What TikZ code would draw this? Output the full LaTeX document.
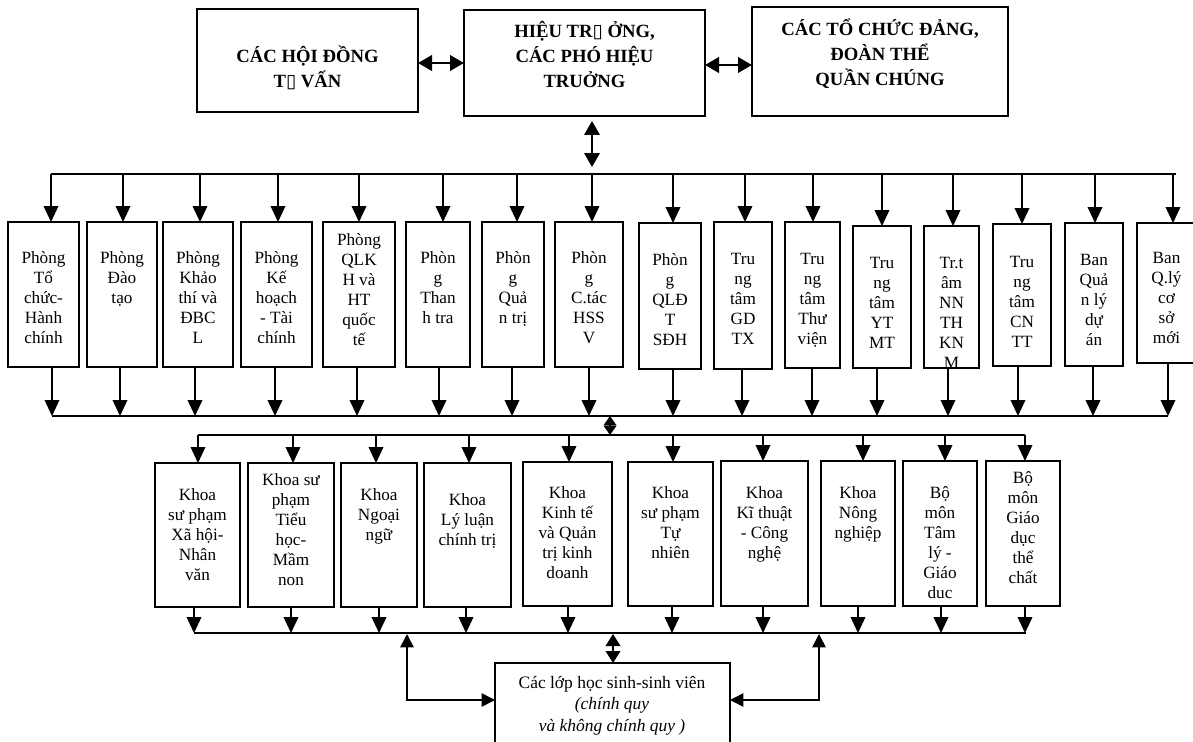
\documentclass[tikz,border=0pt]{standalone}
\usepackage{fontspec}
\setmainfont{Liberation Serif}
\newfontfamily\symfont{DejaVu Sans}
\usetikzlibrary{arrows.meta,fit}
\newcommand\tofu{{\symfont\char"25AF}}
\newcommand\fl{\rule{0pt}{1.1em}}
\newcommand\topbus{174}
\newcommand\botbus{416}
\newcommand\ubox[9]{%
 \node[box, fit={(#2,#4) (#3,#5)}] (#1) {};
 \node[txt] (t#1) at ({(#2+#3)/2},{#8-14}) {\fl #9};
 \coordinate (a#1) at (#6,\topbus);
 \coordinate (b#1) at (#7,\botbus);
 \draw[arr] (a#1) -- (a#1 |- #1.north);
 \draw[arr] (b#1 |- #1.south) -- (b#1);}
\begin{document}
\begin{tikzpicture}[x=0.75pt,y=-0.75pt,
  box/.style={draw, line width=1.2pt, inner sep=0pt, outer sep=0pt},
  txt/.style={inner sep=0pt, align=center, anchor=north, font=\fontsize{12.9pt}{15pt}\selectfont},
  btxt/.style={inner sep=0pt, align=center, anchor=north, font=\fontsize{14pt}{18.5pt}\selectfont\bfseries},
  ctxt/.style={inner sep=0pt, align=center, anchor=north, font=\fontsize{13.1pt}{16pt}\selectfont},
  arr/.style={line width=1.2pt, -{Triangle[length=12pt,width=11pt]}},
  bus/.style={line width=1pt},
  dtop/.style={line width=2.2pt, {Triangle[length=10.5pt,width=11.5pt]}-{Triangle[length=10.5pt,width=11.5pt]}},
  dmid/.style={line width=1pt, {Triangle[length=7pt,width=9.5pt]}-{Triangle[length=7pt,width=9.5pt]}},
  dlow/.style={line width=1pt, {Triangle[length=9pt,width=11pt]}-{Triangle[length=9pt,width=11pt]}},
  dside/.style={line width=1.2pt, {Triangle[length=10pt,width=10pt]}-{Triangle[length=10pt,width=10pt]}}
]
\useasboundingbox (0,0) rectangle (1193,742);
\fill[white] (0,0) rectangle (1193,742);
\clip (0,0) rectangle (1193,742);

% top boxes
\node[box, fit={(197,9) (418,112)}] (hd) {};
\node[btxt] (thd) at (307.5,42) {\fl CÁC HỘI ĐỒNG\\T\tofu\ VẤN};
\node[box, fit={(464,10) (705,116)}] (ht) {};
\node[btxt] (tht) at (584.5,17) {\fl HIỆU TR\tofu\ ỞNG,\\CÁC PHÓ HIỆU\\TRUỞNG};
\node[box, fit={(752,7) (1008,116)}] (dt) {};
\node[btxt] (tdt) at (880,15) {\fl CÁC TỔ CHỨC ĐẢNG,\\ĐOÀN THỂ\\QUẦN CHÚNG};

\draw[dtop] (hd.east |- 0,63) -- (ht.west |- 0,63);
\draw[dtop] (ht.east |- 0,65) -- (dt.west |- 0,65);
\coordinate (v1) at (592,121);
\coordinate (v2) at (592,167);
\draw[dtop, line width=1.9pt] (v1) -- (v2);

% phong row
\ubox{p1}{8}{79}{222}{367}{51}{52}{258}{Phòng\\Tổ\\chức-\\Hành\\chính}
\ubox{p2}{87}{157}{222}{367}{123}{120}{258}{Phòng\\Đào\\tạo}
\ubox{p3}{163}{233}{222}{367}{200}{195}{258}{Phòng\\Khảo\\thí và\\ĐBC\\L}
\ubox{p4}{241}{312}{222}{367}{278}{275}{258}{Phòng\\Kế\\hoạch\\- Tài\\chính}
\ubox{p5}{323}{395}{222}{367}{359}{357}{240}{Phòng\\QLK\\H và\\HT\\quốc\\tế}
\ubox{p6}{406}{470}{222}{367}{443}{439}{258}{Phòn\\g\\Than\\h tra}
\ubox{p7}{482}{544}{222}{367}{517}{512}{258}{Phòn\\g\\Quả\\n trị}
\ubox{p8}{555}{623}{222}{367}{592}{589}{258}{Phòn\\g\\C.tác\\HSS\\V}
\ubox{p9}{639}{701}{223}{369}{673}{673}{260}{Phòn\\g\\QLĐ\\T\\SĐH}
\ubox{p10}{714}{772}{222}{369}{745}{742}{259}{Tru\\ng\\tâm\\GD\\TX}
\ubox{p11}{785}{840}{222}{368}{813}{812}{259}{Tru\\ng\\tâm\\Thư\\viện}
\ubox{p12}{853}{911}{226}{368}{882}{877}{263}{Tru\\ng\\tâm\\YT\\MT}
\ubox{p13}{924}{979}{226}{368}{953}{948}{263}{}
\ubox{p14}{993}{1051}{224}{366}{1022}{1018}{262}{Tru\\ng\\tâm\\CN\\TT}
\ubox{p15}{1065}{1123}{223}{366}{1095}{1093}{260}{Ban\\Quả\\n lý\\dự\\án}
\ubox{p16}{1137}{1196}{223}{363}{1173}{1168}{258}{Ban\\Q.lý\\cơ\\sở\\mới}
\begin{scope}
  \clip (p13.north west) rectangle (p13.south east);
  \node[txt] (tp13x) at (951.5,249) {\fl Tr.t\\âm\\NN\\TH\\KN\\M};
\end{scope}
\draw[bus] (ap1) -- ([xshift=2.25pt]ap16);
\draw[bus] (bp1) -- (bp16);

% link between buses
\coordinate (m1) at (610,416);
\coordinate (m2) at (610,435);
\draw[dmid] (m1) -- (m2);

% khoa row
\renewcommand\topbus{435}
\renewcommand\botbus{633}
\ubox{k1}{155}{240}{463}{607}{198}{194}{495}{Khoa\\sư phạm\\Xã hội-\\Nhân\\văn}
\ubox{k2}{248}{334}{463}{607}{293}{291}{480}{Khoa sư\\phạm\\Tiểu\\học-\\Mầm\\non}
\ubox{k3}{341}{417}{463}{607}{376}{379}{495}{Khoa\\Ngoại\\ngữ}
\ubox{k4}{424}{511}{463}{607}{469}{466}{500}{Khoa\\Lý luận\\chính trị}
\ubox{k5}{523}{612}{462}{606}{569}{568}{493}{Khoa\\Kinh tế\\và Quản\\trị kinh\\doanh}
\ubox{k6}{628}{713}{462}{606}{673}{672}{493}{Khoa\\sư phạm\\Tự\\nhiên}
\ubox{k7}{721}{808}{461}{606}{763}{763}{493}{Khoa\\Kĩ thuật\\- Công\\nghệ}
\ubox{k8}{821}{895}{461}{606}{863}{858}{493}{Khoa\\Nông\\nghiệp}
\ubox{k9}{903}{977}{461}{606}{945}{941}{493}{Bộ\\môn\\Tâm\\lý -\\Giáo\\duc}
\ubox{k10}{986}{1060}{461}{606}{1025}{1025}{478}{Bộ\\môn\\Giáo\\dục\\thể\\chất}
\draw[bus] (ak1) -- (ak10);
\draw[bus] (bk1) -- ([xshift=0.75pt]bk10);

% students box
\node[box, fit={(495,663) (730,760)}] (sv) {};
\node[ctxt] (tsv) at (612,669) {\fl Các lớp học sinh-sinh viên\\\textit{(chính quy}\\\textit{và không chính quy )}};

\coordinate (n1) at (613,634);
\draw[dlow] (n1) -- (n1 |- sv.north);
\coordinate (l1) at (407,634);
\coordinate (lc) at (407,700);
\draw[dside] (l1) -- (lc) -- (lc -| sv.west);
\coordinate (r1) at (819,634);
\coordinate (rc) at (819,700);
\draw[dside] (r1) -- (rc) -- (rc -| sv.east);
\end{tikzpicture}
\end{document}
